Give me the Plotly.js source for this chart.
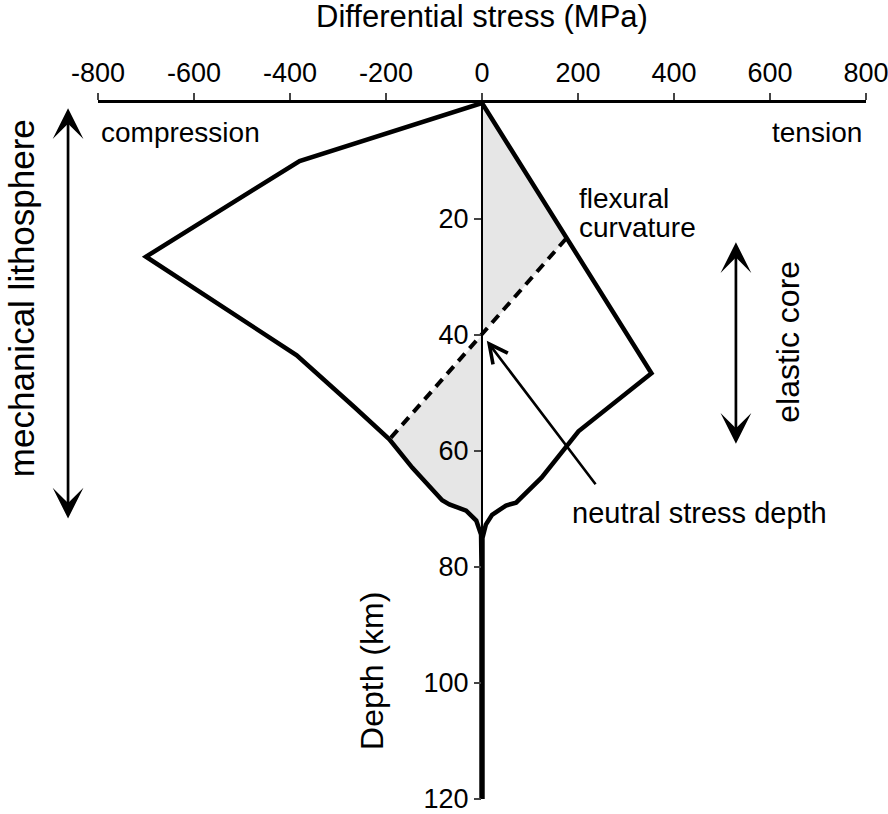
<!DOCTYPE html>
<html>
<head>
<meta charset="utf-8">
<script src="https://cdn.plot.ly/plotly-3.0.1.min.js"></script>
<style>body{margin:0;background:#fff}</style>
</head>
<body>
<div id="chart" style="width:888px;height:814px"></div>
<script>
// stress envelope, compression side (MPa, depth km)
var compStress = [0, -380, -700, -386, -265, -193, -145, -100, -83, -68, -33, -12, -2, -1, -1];
var compDepth  = [0, 10, 26.5, 43.5, 52.5, 58, 62.9, 66.8, 68.5, 69.2, 70.3, 72, 74.4, 80, 120];

// tension side
var tensStress = [0, 353, 201, 124, 71, 50, 21, 8, 1, 1];
var tensDepth  = [0, 46.6, 56.6, 64.6, 68.9, 69.4, 71, 72.7, 75, 120];

// shaded flexural curvature areas
var shadeTopStress = [0, 175, 0];
var shadeTopDepth  = [0, 23.4, 40];
var shadeLowStress = [0, -193, -145, -100, -83, -68, -33, -12, -2, 0];
var shadeLowDepth  = [40, 58, 62.9, 66.8, 68.5, 69.2, 70.3, 72, 74.4, 75];

// dashed curvature line
var dashStress = [175, -193];
var dashDepth  = [23.4, 58];

var tickVals = [-800, -600, -400, -200, 0, 200, 400, 600, 800];
var tickText = ['-800', '-600', '-400', '-200', '0', '200', '400', '600', '800'];
var depthTicks = [20, 40, 60, 80, 100, 120];

var black = '#000';
var grey = '#e6e6e6';
var family = 'Liberation Sans, Arial, sans-serif';

var data = [
    {x: shadeTopStress, y: shadeTopDepth, fill: 'toself', fillcolor: grey, mode: 'none', type: 'scatter', hoverinfo: 'skip'},
    {x: shadeLowStress, y: shadeLowDepth, fill: 'toself', fillcolor: grey, mode: 'none', type: 'scatter', hoverinfo: 'skip'},
    {x: dashStress, y: dashDepth, mode: 'lines', type: 'scatter', line: {color: black, width: 4, dash: '10px,7px'}},
    {x: compStress, y: compDepth, mode: 'lines', type: 'scatter', line: {color: black, width: 4.5}},
    {x: tensStress, y: tensDepth, mode: 'lines', type: 'scatter', line: {color: black, width: 4.5}}
];

var fnt = {family: family, size: 27, color: black};
var vfnt = {family: family, size: 32, color: black};

var layout = {
    width: 888,
    height: 814,
    margin: {l: 98, r: 22, t: 103, b: 15},
    paper_bgcolor: '#fff',
    plot_bgcolor: '#fff',
    showlegend: false,
    font: fnt,
    xaxis: {
        side: 'top',
        range: [-800, 800],
        tickvals: tickVals,
        ticktext: tickText,
        ticks: 'outside',
        ticklen: 7,
        tickwidth: 2,
        ticklabeloverflow: 'allow',
        showline: true,
        linewidth: 3,
        linecolor: black,
        showgrid: false,
        zeroline: false,
        tickfont: fnt
    },
    yaxis: {
        range: [120, 0],
        anchor: 'free',
        position: 0.5,
        tickvals: depthTicks,
        ticks: 'outside',
        ticklen: 7,
        tickwidth: 2,
        ticklabeloverflow: 'allow',
        showline: true,
        linewidth: 2,
        linecolor: black,
        showgrid: false,
        zeroline: false,
        tickfont: fnt
    },
    annotations: [
        {text: 'Differential stress (MPa)', x: 0, y: 1, xref: 'x', yref: 'paper', yanchor: 'middle', showarrow: false,
         font: {family: family, size: 31, color: black}},
        {text: 'compression', x: -798, y: 5.1, xref: 'x', yref: 'y', xanchor: 'left', showarrow: false,
         font: {family: family, size: 28, color: black}},
        {text: 'tension', x: 795, y: 5.1, xref: 'x', yref: 'y', xanchor: 'right', showarrow: false,
         font: {family: family, size: 28, color: black}},
        {text: 'flexural', x: 198, y: 16.4, xref: 'x', yref: 'y', xanchor: 'left', showarrow: false,
         font: {family: family, size: 28, color: black}},
        {text: 'curvature', x: 198, y: 21.4, xref: 'x', yref: 'y', xanchor: 'left', showarrow: false,
         font: {family: family, size: 28, color: black}},
        {text: 'neutral stress depth', x: 184, y: 70.7, xref: 'x', yref: 'y', xanchor: 'left', showarrow: false,
         font: {family: family, size: 29, color: black}},
        {text: 'Depth (km)', x: -228, y: 98, xref: 'x', yref: 'y', textangle: -90, showarrow: false, font: vfnt},
        {text: 'elastic core', x: 637, y: 41.2, xref: 'x', yref: 'y', textangle: -90, showarrow: false, font: vfnt},
        {text: 'mechanical lithosphere', x: -0.0986, y: 33.6, xref: 'paper', yref: 'y', xanchor: 'center', textangle: -90,
         showarrow: false, font: {family: family, size: 35, color: black}},
        // neutral stress depth pointer
        {text: '', x: 10, y: 41, xref: 'x', yref: 'y', ax: 239, ay: 66, axref: 'x', ayref: 'y',
         showarrow: true, arrowhead: 5, arrowsize: 1.4, arrowwidth: 2.6, arrowcolor: black},
        // elastic core double arrow
        {text: '', x: 529, y: 24, xref: 'x', yref: 'y', ax: 529, ay: 59, axref: 'x', ayref: 'y',
         showarrow: true, arrowside: 'end+start', arrowhead: 3, startarrowhead: 3, arrowsize: 1.9, startarrowsize: 1.9, arrowwidth: 2.7, arrowcolor: black},
        // mechanical lithosphere double arrow
        {text: '', x: -0.039, y: 0.9, xref: 'paper', yref: 'y', ax: 0, ay: 71.9, ayref: 'y',
         showarrow: true, arrowside: 'end+start', arrowhead: 3, startarrowhead: 3, arrowsize: 1.9, startarrowsize: 1.9, arrowwidth: 2.7, arrowcolor: black}
    ]
};

// title centre 17 px from the top of the page -> paper fraction
layout.annotations[0].y = 1 + (103 - 17) / (814 - 103 - 15);

Plotly.newPlot('chart', data, layout, {displayModeBar: false, staticPlot: true});
</script>
</body>
</html>
